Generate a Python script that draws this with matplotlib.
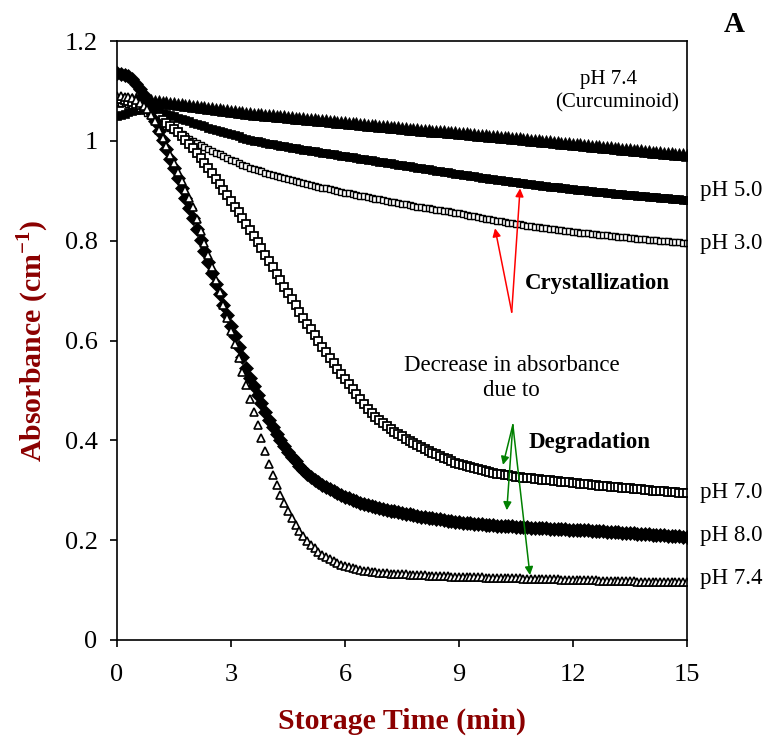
import numpy as np
import matplotlib
matplotlib.use("Agg")
import matplotlib.pyplot as plt

plt.rcParams['font.family'] = ['Liberation Serif', 'DejaVu Serif']
plt.rcParams['mathtext.fontset'] = 'custom'
plt.rcParams['mathtext.rm'] = 'Liberation Serif'
plt.rcParams['mathtext.bf'] = 'Liberation Serif:bold'

time_min = np.round(np.linspace(0, 15, 151), 1)

ph74_curcuminoid = [
    1.080, 1.082, 1.083, 1.084, 1.085, 1.086, 1.085, 1.084, 1.083, 1.082,
    1.081, 1.080, 1.079, 1.078, 1.077, 1.076, 1.075, 1.074, 1.073, 1.072,
    1.071, 1.070, 1.069, 1.068, 1.067, 1.066, 1.065, 1.064, 1.063, 1.062,
    1.061, 1.060, 1.059, 1.058, 1.057, 1.056, 1.055, 1.055, 1.054, 1.053,
    1.052, 1.052, 1.051, 1.050, 1.050, 1.049, 1.048, 1.047, 1.047, 1.046,
    1.045, 1.044, 1.044, 1.043, 1.042, 1.042, 1.041, 1.040, 1.039, 1.039,
    1.038, 1.037, 1.036, 1.036, 1.035, 1.034, 1.033, 1.033, 1.032, 1.031,
    1.031, 1.030, 1.029, 1.028, 1.028, 1.027, 1.026, 1.025, 1.025, 1.024,
    1.023, 1.023, 1.022, 1.021, 1.020, 1.020, 1.019, 1.018, 1.017, 1.017,
    1.016, 1.015, 1.015, 1.014, 1.013, 1.012, 1.012, 1.011, 1.010, 1.010,
    1.009, 1.008, 1.008, 1.007, 1.006, 1.005, 1.005, 1.004, 1.003, 1.002,
    1.002, 1.001, 1.000, 0.999, 0.999, 0.998, 0.997, 0.996, 0.996, 0.995,
    0.994, 0.993, 0.993, 0.992, 0.991, 0.990, 0.990, 0.989, 0.988, 0.987,
    0.987, 0.986, 0.985, 0.984, 0.984, 0.983, 0.982, 0.981, 0.981, 0.980,
    0.979, 0.978, 0.978, 0.977, 0.976, 0.975, 0.975, 0.974, 0.973, 0.973,
    0.972]

ph50 = [
    1.050, 1.053, 1.055, 1.058, 1.060, 1.062, 1.063, 1.064, 1.064, 1.063,
    1.062, 1.060, 1.057, 1.055, 1.052, 1.050, 1.047, 1.045, 1.042, 1.040,
    1.037, 1.035, 1.032, 1.030, 1.027, 1.025, 1.023, 1.020, 1.018, 1.015,
    1.013, 1.011, 1.009, 1.006, 1.004, 1.002, 1.000, 0.999, 0.997, 0.996,
    0.994, 0.993, 0.991, 0.990, 0.989, 0.987, 0.986, 0.985, 0.984, 0.982,
    0.981, 0.980, 0.979, 0.977, 0.976, 0.975, 0.974, 0.973, 0.971, 0.970,
    0.969, 0.968, 0.967, 0.965, 0.964, 0.963, 0.962, 0.961, 0.959, 0.958,
    0.957, 0.956, 0.955, 0.953, 0.952, 0.951, 0.950, 0.949, 0.947, 0.946,
    0.945, 0.944, 0.943, 0.941, 0.940, 0.939, 0.938, 0.937, 0.935, 0.934,
    0.933, 0.932, 0.931, 0.930, 0.929, 0.928, 0.926, 0.925, 0.924, 0.923,
    0.922, 0.921, 0.920, 0.919, 0.918, 0.917, 0.916, 0.915, 0.914, 0.913,
    0.912, 0.911, 0.910, 0.909, 0.908, 0.907, 0.907, 0.906, 0.905, 0.904,
    0.903, 0.902, 0.901, 0.901, 0.900, 0.899, 0.898, 0.897, 0.897, 0.896,
    0.895, 0.894, 0.894, 0.893, 0.892, 0.892, 0.891, 0.890, 0.890, 0.889,
    0.888, 0.887, 0.887, 0.886, 0.885, 0.885, 0.884, 0.883, 0.883, 0.882,
    0.881]

ph30 = [
    1.078, 1.077, 1.076, 1.075, 1.073, 1.070, 1.066, 1.062, 1.057, 1.051,
    1.045, 1.040, 1.036, 1.031, 1.027, 1.022, 1.018, 1.013, 1.009, 1.004,
    1.000, 0.996, 0.992, 0.988, 0.984, 0.980, 0.976, 0.973, 0.969, 0.966,
    0.962, 0.959, 0.956, 0.952, 0.949, 0.946, 0.944, 0.941, 0.939, 0.936,
    0.934, 0.932, 0.930, 0.928, 0.925, 0.923, 0.921, 0.919, 0.917, 0.915,
    0.913, 0.911, 0.910, 0.908, 0.906, 0.905, 0.903, 0.901, 0.900, 0.898,
    0.896, 0.895, 0.893, 0.892, 0.890, 0.889, 0.887, 0.886, 0.884, 0.883,
    0.881, 0.880, 0.878, 0.877, 0.875, 0.874, 0.873, 0.871, 0.870, 0.868,
    0.867, 0.866, 0.865, 0.863, 0.862, 0.861, 0.860, 0.859, 0.857, 0.856,
    0.855, 0.853, 0.852, 0.850, 0.849, 0.847, 0.846, 0.844, 0.843, 0.841,
    0.840, 0.839, 0.838, 0.836, 0.835, 0.834, 0.833, 0.832, 0.830, 0.829,
    0.828, 0.827, 0.826, 0.825, 0.824, 0.823, 0.822, 0.821, 0.820, 0.819,
    0.818, 0.817, 0.816, 0.816, 0.815, 0.814, 0.813, 0.812, 0.812, 0.811,
    0.810, 0.809, 0.808, 0.808, 0.807, 0.806, 0.805, 0.804, 0.804, 0.803,
    0.802, 0.801, 0.801, 0.800, 0.799, 0.799, 0.798, 0.797, 0.797, 0.796,
    0.795]

ph70 = [
    1.085, 1.084, 1.083, 1.081, 1.078, 1.075, 1.072, 1.068, 1.064, 1.060,
    1.055, 1.049, 1.043, 1.037, 1.031, 1.025, 1.017, 1.009, 1.001, 0.993,
    0.985, 0.975, 0.965, 0.955, 0.945, 0.935, 0.924, 0.913, 0.902, 0.891,
    0.880, 0.868, 0.857, 0.845, 0.834, 0.822, 0.810, 0.797, 0.785, 0.772,
    0.760, 0.747, 0.734, 0.721, 0.708, 0.695, 0.683, 0.671, 0.658, 0.646,
    0.634, 0.623, 0.611, 0.600, 0.588, 0.577, 0.566, 0.555, 0.544, 0.533,
    0.522, 0.512, 0.502, 0.492, 0.482, 0.472, 0.463, 0.455, 0.447, 0.440,
    0.434, 0.428, 0.423, 0.417, 0.412, 0.408, 0.403, 0.398, 0.394, 0.390,
    0.386, 0.382, 0.379, 0.375, 0.372, 0.368, 0.365, 0.362, 0.358, 0.355,
    0.352, 0.350, 0.348, 0.346, 0.344, 0.342, 0.340, 0.338, 0.337, 0.335,
    0.333, 0.332, 0.331, 0.330, 0.328, 0.327, 0.326, 0.325, 0.325, 0.324,
    0.323, 0.322, 0.321, 0.321, 0.320, 0.319, 0.318, 0.317, 0.317, 0.316,
    0.315, 0.314, 0.313, 0.313, 0.312, 0.311, 0.310, 0.309, 0.309, 0.308,
    0.307, 0.306, 0.306, 0.305, 0.304, 0.304, 0.303, 0.302, 0.302, 0.301,
    0.300, 0.299, 0.299, 0.298, 0.298, 0.297, 0.297, 0.296, 0.295, 0.295,
    0.294]

ph80 = [
    1.136, 1.135, 1.133, 1.130, 1.125, 1.115, 1.104, 1.092, 1.078, 1.060,
    1.040, 1.021, 1.002, 0.983, 0.964, 0.945, 0.925, 0.905, 0.885, 0.865,
    0.845, 0.823, 0.801, 0.779, 0.757, 0.735, 0.714, 0.693, 0.672, 0.651,
    0.630, 0.609, 0.588, 0.567, 0.546, 0.525, 0.508, 0.491, 0.474, 0.457,
    0.440, 0.426, 0.413, 0.400, 0.388, 0.377, 0.367, 0.358, 0.349, 0.341,
    0.333, 0.327, 0.321, 0.316, 0.311, 0.306, 0.302, 0.298, 0.294, 0.290,
    0.287, 0.284, 0.281, 0.278, 0.275, 0.272, 0.270, 0.268, 0.266, 0.264,
    0.262, 0.261, 0.259, 0.258, 0.256, 0.255, 0.253, 0.252, 0.250, 0.249,
    0.247, 0.246, 0.245, 0.244, 0.243, 0.242, 0.240, 0.239, 0.238, 0.237,
    0.236, 0.235, 0.235, 0.234, 0.233, 0.233, 0.232, 0.231, 0.231, 0.230,
    0.229, 0.229, 0.228, 0.228, 0.228, 0.227, 0.227, 0.226, 0.226, 0.225,
    0.225, 0.225, 0.224, 0.224, 0.223, 0.223, 0.223, 0.222, 0.222, 0.221,
    0.221, 0.221, 0.220, 0.220, 0.220, 0.219, 0.219, 0.218, 0.218, 0.217,
    0.217, 0.216, 0.216, 0.215, 0.215, 0.214, 0.214, 0.213, 0.213, 0.212,
    0.212, 0.211, 0.211, 0.210, 0.210, 0.209, 0.209, 0.208, 0.208, 0.207,
    0.207]

ph74 = [
    1.090, 1.090, 1.089, 1.088, 1.086, 1.082, 1.077, 1.071, 1.064, 1.053,
    1.040, 1.023, 1.006, 0.989, 0.972, 0.955, 0.937, 0.920, 0.902, 0.885,
    0.867, 0.843, 0.819, 0.796, 0.772, 0.748, 0.722, 0.697, 0.671, 0.646,
    0.620, 0.593, 0.565, 0.538, 0.510, 0.483, 0.457, 0.431, 0.404, 0.378,
    0.352, 0.330, 0.310, 0.291, 0.274, 0.258, 0.244, 0.231, 0.219, 0.208,
    0.198, 0.191, 0.184, 0.177, 0.171, 0.166, 0.162, 0.158, 0.154, 0.151,
    0.148, 0.146, 0.144, 0.142, 0.141, 0.139, 0.138, 0.137, 0.136, 0.135,
    0.134, 0.134, 0.133, 0.133, 0.133, 0.132, 0.132, 0.131, 0.131, 0.130,
    0.130, 0.130, 0.129, 0.129, 0.129, 0.128, 0.128, 0.128, 0.127, 0.127,
    0.127, 0.127, 0.126, 0.126, 0.126, 0.126, 0.126, 0.125, 0.125, 0.125,
    0.125, 0.125, 0.124, 0.124, 0.124, 0.124, 0.124, 0.123, 0.123, 0.123,
    0.123, 0.123, 0.122, 0.122, 0.122, 0.122, 0.122, 0.121, 0.121, 0.121,
    0.121, 0.121, 0.120, 0.120, 0.120, 0.120, 0.120, 0.119, 0.119, 0.119,
    0.119, 0.119, 0.118, 0.118, 0.118, 0.118, 0.118, 0.117, 0.117, 0.117,
    0.117, 0.117, 0.117, 0.117, 0.116, 0.116, 0.116, 0.116, 0.116, 0.116,
    0.116]

x_ticks = [0, 3, 6, 9, 12, 15]
y_ticks = [0, 0.2, 0.4, 0.6, 0.8, 1.0, 1.2]
y_tick_labels = ['0', '0.2', '0.4', '0.6', '0.8', '1', '1.2']

curve_labels = ['pH 5.0', 'pH 3.0', 'pH 7.0', 'pH 8.0', 'pH 7.4']
curve_label_y = [0.901, 0.795, 0.296, 0.210, 0.124]

label_red = '#8B0000'

fig = plt.figure(figsize=(7.7, 7.42), dpi=100)
ax = fig.add_axes([0.152, 0.1375, 0.740, 0.807])

ax.plot(time_min, ph74_curcuminoid, linestyle='none', marker='^', ms=8,
        mfc='black', mec='black', mew=0.5)
ax.plot(time_min, ph50, linestyle='none', marker='s', ms=6,
        mfc='black', mec='black', mew=0.5)
ax.plot(time_min, ph30, linestyle='none', marker='s', ms=4.8,
        mfc='white', mec='black', mew=1.0)
ax.plot(time_min, ph70, linestyle='none', marker='s', ms=6.3,
        mfc='white', mec='black', mew=1.3)
ax.plot(time_min, ph80, linestyle='none', marker='D', ms=7,
        mfc='black', mec='black', mew=0.5)
ax.plot(time_min, ph74, linestyle='none', marker='^', ms=6.3,
        mfc='white', mec='black', mew=1.2)

ax.set_xlim(0, 15)
ax.set_ylim(0, 1.2)
ax.set_xticks(x_ticks)
ax.set_yticks(y_ticks)
ax.set_yticklabels(y_tick_labels)
ax.tick_params(direction='out', length=5, width=1.2, labelsize=19)
ax.tick_params(axis='x', pad=12)
ax.tick_params(axis='y', pad=9)
for sp in ax.spines.values():
    sp.set_linewidth(1.2)

ax.set_xlabel('Storage Time (min)', fontsize=21.5, fontweight='bold',
              color=label_red, labelpad=16)
ax.set_ylabel(r'Absorbance (cm$^{\mathbf{-1}}$)', fontsize=21.5, fontweight='bold',
              color=label_red, labelpad=10)

for lab, yv in zip(curve_labels, curve_label_y):
    ax.text(15.34, yv, lab, fontsize=16.5, ha='left', va='center', clip_on=False)

ax.text(12.95, 1.124, 'pH 7.4', fontsize=15, ha='center', va='center')
ax.text(13.16, 1.076, '(Curcuminoid)', fontsize=15, ha='center', va='center')
ax.text(10.74, 0.715, 'Crystallization', fontsize=16.5, fontweight='bold',
        ha='left', va='center')
ax.text(10.39, 0.525, 'Decrease in absorbance\ndue to', fontsize=16.5,
        ha='center', va='center', linespacing=1.3)
ax.text(10.82, 0.395, 'Degradation', fontsize=16.5, fontweight='bold',
        ha='left', va='center')

red_tail = (10.39, 0.657)
for head in [(9.95, 0.825), (10.61, 0.905)]:
    ax.annotate('', xy=head, xytext=red_tail,
                arrowprops=dict(arrowstyle='-|>', color='red', lw=1.1,
                                mutation_scale=12, shrinkA=0, shrinkB=0))
green_tail = (10.42, 0.431)
for head in [(10.16, 0.351), (10.26, 0.260), (10.87, 0.130)]:
    ax.annotate('', xy=head, xytext=green_tail,
                arrowprops=dict(arrowstyle='-|>', color='green', lw=1.1,
                                mutation_scale=12, shrinkA=0, shrinkB=0))

fig.text(734 / 770, 1 - 24 / 742, 'A', fontsize=21, fontweight='bold',
         ha='center', va='center')

fig.savefig('out.png', dpi=100)
